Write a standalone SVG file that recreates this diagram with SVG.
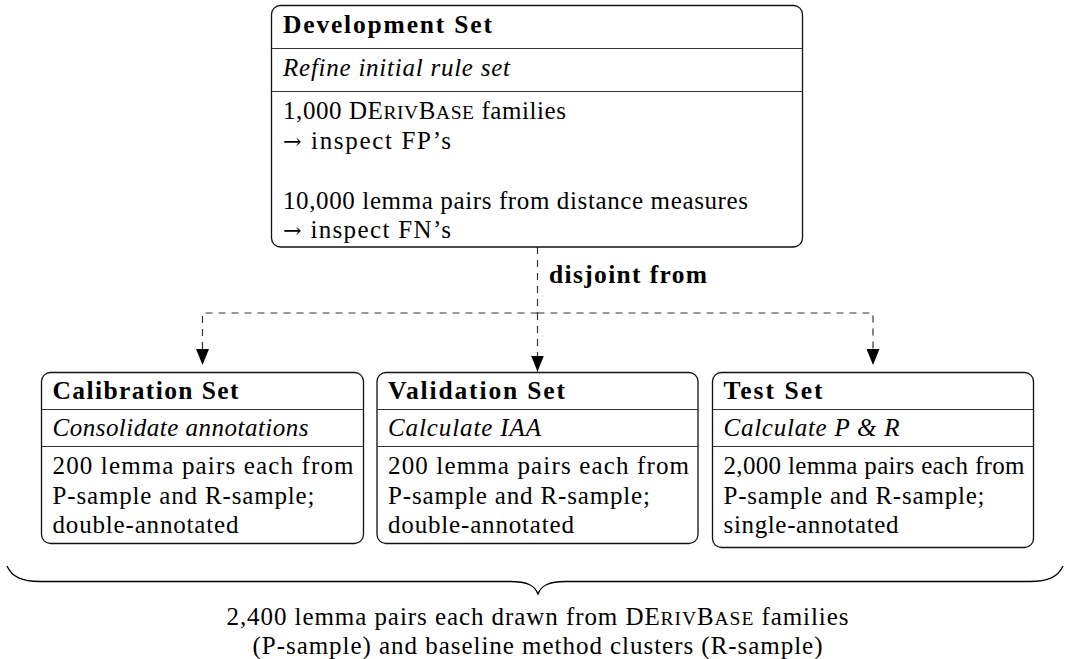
<svg xmlns="http://www.w3.org/2000/svg" width="1065" height="659" viewBox="0 0 1065 659">
<style>
  .box { fill: #fff; stroke: #111; stroke-width: 1.3; }
  .sep { stroke: #333; stroke-width: 1.2; fill: none; }
  text { font-family: "Liberation Serif", "Times New Roman", serif; font-size: 25px; fill: #000; }
  .b { font-weight: bold; font-size: 25.5px; }
  .i { font-style: italic; }
  .sc { font-size: 19.5px; }
  .ar { font-family: "DejaVu Serif", serif; font-size: 22px; }
  .dash { fill: none; stroke: #333; stroke-width: 1.2; stroke-dasharray: 7 6; }
  .brace { fill: none; stroke: #000; stroke-width: 1.3; }
</style>
<defs>
  <marker id="arr" markerUnits="userSpaceOnUse" markerWidth="17" markerHeight="14" refX="16" refY="6.5" orient="auto">
    <path d="M0,0 L16,6.5 L0,13 z" fill="#000"/>
  </marker>
</defs>

<g id="connectors">
  <path class="dash" d="M537.5,247 V313"/>
  <path class="dash" d="M537.5,313 V371.5" marker-end="url(#arr)"/>
  <path class="dash" d="M537.5,313 H202.5 V365" marker-end="url(#arr)"/>
  <path class="dash" d="M537.5,313 H873 V365" marker-end="url(#arr)"/>
  <text class="b" x="549" y="282.5" textLength="158" lengthAdjust="spacing">disjoint from</text>
</g>

<g id="development">
  <rect class="box" x="271.5" y="5.5" width="531" height="241.5" rx="9"/>
  <line class="sep" x1="271.5" y1="48.5" x2="802.5" y2="48.5"/>
  <line class="sep" x1="271.5" y1="91.5" x2="802.5" y2="91.5"/>
  <text class="b" x="283" y="32.5" textLength="209" lengthAdjust="spacing">Development Set</text>
  <text class="i" x="283" y="76" textLength="227" lengthAdjust="spacing">Refine initial rule set</text>
  <text x="283" y="119" textLength="283" lengthAdjust="spacing">1,000 DE<tspan class="sc">RIV</tspan>B<tspan class="sc">ASE</tspan> families</text>
  <text x="283" y="149" textLength="168" lengthAdjust="spacing"><tspan class="ar">→</tspan> inspect FP’s</text>
  <text x="283" y="208.5" textLength="465" lengthAdjust="spacing">10,000 lemma pairs from distance measures</text>
  <text x="283" y="238" textLength="168" lengthAdjust="spacing"><tspan class="ar">→</tspan> inspect FN’s</text>
</g>

<g id="calibration">
  <rect class="box" x="41.5" y="372.5" width="322" height="171" rx="9"/>
  <line class="sep" x1="41.5" y1="409.5" x2="363.5" y2="409.5"/>
  <line class="sep" x1="41.5" y1="446.5" x2="363.5" y2="446.5"/>
  <text class="b" x="52.5" y="399" textLength="186" lengthAdjust="spacing">Calibration Set</text>
  <text class="i" x="52.5" y="436" textLength="256" lengthAdjust="spacing">Consolidate annotations</text>
  <text x="52.5" y="474" textLength="301" lengthAdjust="spacing">200 lemma pairs each from</text>
  <text x="52.5" y="503.5" textLength="262" lengthAdjust="spacing">P-sample and R-sample;</text>
  <text x="52.5" y="533" textLength="186" lengthAdjust="spacing">double-annotated</text>
</g>

<g id="validation">
  <rect class="box" x="377" y="372.5" width="321" height="171" rx="9"/>
  <line class="sep" x1="377" y1="409.5" x2="698" y2="409.5"/>
  <line class="sep" x1="377" y1="446.5" x2="698" y2="446.5"/>
  <text class="b" x="388" y="399" textLength="177" lengthAdjust="spacing">Validation Set</text>
  <text class="i" x="388" y="436" textLength="153" lengthAdjust="spacing">Calculate IAA</text>
  <text x="388" y="474" textLength="301" lengthAdjust="spacing">200 lemma pairs each from</text>
  <text x="388" y="503.5" textLength="262" lengthAdjust="spacing">P-sample and R-sample;</text>
  <text x="388" y="533" textLength="186" lengthAdjust="spacing">double-annotated</text>
</g>

<g id="test">
  <rect class="box" x="712.5" y="372.5" width="321" height="175" rx="9"/>
  <line class="sep" x1="712.5" y1="409.5" x2="1033.5" y2="409.5"/>
  <line class="sep" x1="712.5" y1="446.5" x2="1033.5" y2="446.5"/>
  <text class="b" x="723.5" y="399" textLength="99" lengthAdjust="spacing">Test Set</text>
  <text class="i" x="723.5" y="436" textLength="176" lengthAdjust="spacing">Calculate P &amp; R</text>
  <text x="723.5" y="474" textLength="301" lengthAdjust="spacing">2,000 lemma pairs each from</text>
  <text x="723.5" y="503.5" textLength="261" lengthAdjust="spacing">P-sample and R-sample;</text>
  <text x="723.5" y="533" textLength="175" lengthAdjust="spacing">single-annotated</text>
</g>

<g id="summary">
  <path class="brace" d="M7,566 C12,577 22,581.5 40,581.5 L510,581.5 C528,581.5 535,586 538,594 C541,586 548,581.5 566,581.5 L1030,581.5 C1048,581.5 1058,577 1063,566"/>
  <text x="537.5" y="624.5" text-anchor="middle" textLength="622" lengthAdjust="spacing">2,400 lemma pairs each drawn from DE<tspan class="sc">RIV</tspan>B<tspan class="sc">ASE</tspan> families</text>
  <text x="537.5" y="653.5" text-anchor="middle" textLength="570" lengthAdjust="spacing">(P-sample) and baseline method clusters (R-sample)</text>
</g>
</svg>
